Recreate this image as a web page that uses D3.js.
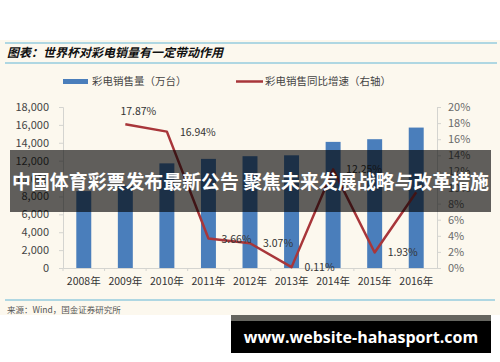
<!DOCTYPE html>
<html>
<head>
<meta charset="utf-8">
<script src="https://cdn.jsdelivr.net/npm/d3@7"></script>
<style>
  body { margin: 0; background: #fff; }
  svg { display: block; }
  text { font-family: "Noto Sans CJK SC", "Noto Sans", sans-serif; }
</style>
</head>
<body>
<div id="chart"></div>
<script>
// data
let years = ['2008年','2009年','2010年','2011年','2012年','2013年','2014年','2015年','2016年']
let sales = [8600, 9200, 11700, 12200, 12500, 12600, 14100, 14400, 15700]   // 万台
let growthYears = ['2009年','2010年','2011年','2012年','2013年','2014年','2015年','2016年']
let growth = [17.87, 16.94, 3.66, 3.07, 0.11, 12.25, 1.93, 9.4]
let growthLabels = ['17.87%','16.94%','3.66%','3.07%','0.11%','12.25%','1.93%','']
let leftTicks = [0, 2000, 4000, 6000, 8000, 10000, 12000, 14000, 16000, 18000]
let rightTicks = [0, 2, 4, 6, 8, 10, 12, 14, 16, 18, 20]

let W = 500, H = 362
let plot = { left: 63, right: 437, top: 107, bottom: 268 }

let svg = d3.select('#chart').append('svg')
  .attr('width', W)
  .attr('height', H)

// backgrounds
svg.append('rect').attr('width', W).attr('height', H).attr('fill', '#fff')
svg.append('rect').attr('x', 0).attr('y', 40).attr('width', W).attr('height', 275).attr('fill', '#fcf8ee')

// title block
svg.append('line').attr('x1', 5).attr('x2', 497).attr('y1', 43).attr('y2', 43)
  .attr('stroke', '#62b6d6').attr('stroke-width', 1.2)
svg.append('line').attr('x1', 5).attr('x2', 497).attr('y1', 63).attr('y2', 63)
  .attr('stroke', '#62b6d6').attr('stroke-width', 1.2)
svg.append('text')
  .attr('x', 7).attr('y', 57)
  .style('font-size', '12px').style('font-weight', 'bold').style('font-style', 'italic')
  .attr('fill', '#111')
  .text('图表：世界杯对彩电销量有一定带动作用')

// legend
svg.append('rect').attr('x', 63).attr('y', 79).attr('width', 25).attr('height', 5).attr('fill', '#4a7ebb')
svg.append('text').attr('x', 92).attr('y', 85).style('font-size', '10.5px').attr('fill', '#444')
  .text('彩电销售量（万台）')
svg.append('line').attr('x1', 236).attr('x2', 263).attr('y1', 81.5).attr('y2', 81.5)
  .attr('stroke', '#a8363a').attr('stroke-width', 2.5)
svg.append('text').attr('x', 265).attr('y', 85).style('font-size', '10.5px').attr('fill', '#444')
  .text('彩电销售同比增速（右轴）')

// scales
let x = d3.scaleBand()
  .domain(years)
  .range([plot.left, plot.right])
  .paddingInner(0.64)
  .paddingOuter(0.32)

let y = d3.scaleLinear()
  .domain([0, 18000])
  .range([plot.bottom, plot.top])

let y2 = d3.scaleLinear()
  .domain([0, 20])
  .range([plot.bottom, plot.top])

// axes
let yAxis = svg.append('g')
  .attr('transform', 'translate(' + plot.left + ',0)')
  .call(d3.axisLeft(y).tickValues(leftTicks).tickSize(4).tickPadding(10).tickFormat(d3.format(',')))
let y2Axis = svg.append('g')
  .attr('transform', 'translate(' + plot.right + ',0)')
  .call(d3.axisRight(y2).tickValues(rightTicks).tickSize(4).tickPadding(7).tickFormat(d => d + '%'))
let xAxis = svg.append('g')
  .attr('transform', 'translate(0,' + plot.bottom + ')')
  .call(d3.axisBottom(x).tickSize(0).tickPadding(10))

;[yAxis, y2Axis, xAxis].forEach(a => {
  a.select('.domain').attr('stroke', '#d4d4d0')
  a.selectAll('.tick line').attr('stroke', '#d4d4d0')
  a.selectAll('.tick text').attr('fill', '#444').style('font-size', '11px')
    .style('font-family', '"Noto Sans CJK SC", sans-serif')
})
y2Axis.selectAll('.tick text').attr('fill', '#6a6a6a')
xAxis.selectAll('.tick text').attr('fill', '#333').style('font-size', '10.5px')
// small ticks between categories on x axis
xAxis.selectAll('.sep')
  .data(years)
  .enter().append('line')
  .attr('x1', d => x(d) - x.step() * x.paddingInner() / 2)
  .attr('x2', d => x(d) - x.step() * x.paddingInner() / 2)
  .attr('y1', 0).attr('y2', 3)
  .attr('stroke', '#d4d4d0')

// bars
svg.selectAll('.bar')
  .data(sales)
  .enter().append('rect')
  .attr('class', 'bar')
  .attr('x', (d, i) => x(years[i]))
  .attr('width', x.bandwidth())
  .attr('y', d => y(d))
  .attr('height', d => y(0) - y(d))
  .attr('fill', '#4a7ebb')

// growth line
let cx = i => x(growthYears[i]) + x.bandwidth() / 2
let line = d3.line()
  .x((d, i) => cx(i))
  .y(d => y2(d))

svg.append('path')
  .datum(growth)
  .attr('d', line)
  .attr('fill', 'none')
  .attr('stroke', '#a8363a')
  .attr('stroke-width', 2.5)
  .attr('stroke-linejoin', 'round')

// data labels, mostly to the right of the point
svg.selectAll('.lbl')
  .data(growthLabels)
  .enter().append('text')
  .attr('x', (d, i) => cx(i) + 13)
  .attr('y', (d, i) => i === 0 ? y2(growth[i]) - 9 : y2(growth[i]) + 4)
  .attr('text-anchor', (d, i) => i === 0 ? 'middle' : 'start')
  .style('font-size', '10.5px')
  .attr('fill', '#333')
  .text(d => d)

// overlay banner
svg.append('rect').attr('x', 10).attr('y', 150).attr('width', 481).attr('height', 62)
  .attr('fill', 'rgba(0,0,0,0.62)')
svg.append('text')
  .attr('x', 12).attr('y', 189)
  .attr('textLength', 477).attr('lengthAdjust', 'spacingAndGlyphs')
  .style('font-size', '19px').style('font-weight', 'bold')
  .attr('fill', '#fff')
  .text('中国体育彩票发布最新公告 聚焦未来发展战略与改革措施')

// footer
svg.append('line').attr('x1', 5).attr('x2', 495).attr('y1', 300).attr('y2', 300)
  .attr('stroke', '#62b6d6').attr('stroke-width', 1.2)
svg.append('text').attr('x', 7).attr('y', 313).style('font-size', '8.5px').attr('fill', '#555')
  .text('来源：Wind，国金证券研究所')

// watermark
svg.append('rect').attr('x', 231).attr('y', 315).attr('width', 260).attr('height', 7).attr('fill', '#666660')
svg.append('rect').attr('x', 231).attr('y', 321).attr('width', 260).attr('height', 32).attr('fill', '#000')
svg.append('text')
  .attr('x', 361).attr('y', 343)
  .attr('text-anchor', 'middle')
  .style('font-family', '"Open Sans", "DejaVu Sans", sans-serif')
  .style('font-size', '16px').style('font-weight', 'bold')
  .attr('fill', '#fff')
  .text('www.website-hahasport.com')
</script>
</body>
</html>
